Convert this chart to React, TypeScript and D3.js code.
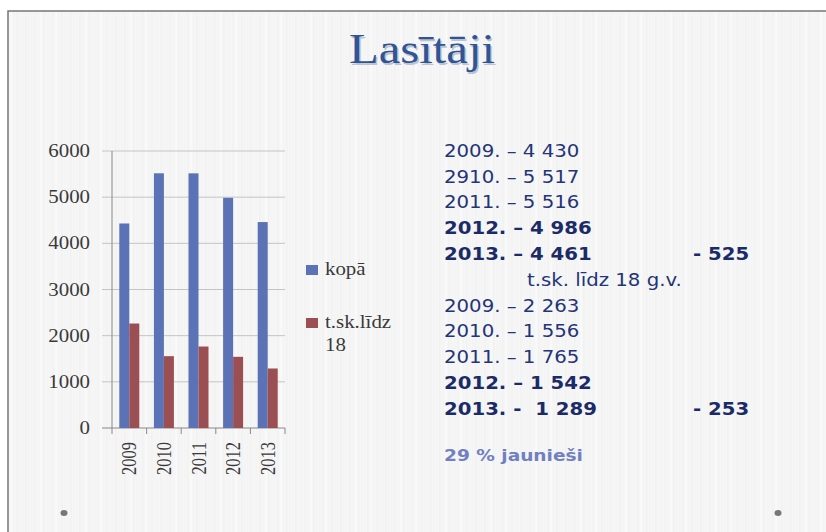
import React from 'react';
import * as d3 from 'd3';

// chart data
const years = ['2009', '2010', '2011', '2012', '2013'];
const kopa = [4430, 5517, 5516, 4986, 4461];
const lidz18 = [2263, 1556, 1765, 1542, 1289];
const yTicks = [0, 1000, 2000, 3000, 4000, 5000, 6000];
const seriesNames = ['kopā', 't.sk.līdz 18'];

// text block on the right
const kopaLines = ['2009. – 4 430', '2910. – 5 517', '2011. – 5 516', '2012. – 4 986', '2013. – 4 461'];
const kopaBold = [false, false, false, true, true];
const kopaDiff = '- 525';
const subTitle = 't.sk. līdz 18 g.v.';
const lidzLines = ['2009. – 2 263', '2010. – 1 556', '2011. – 1 765', '2012. – 1 542', '2013. -  1 289'];
const lidzBold = [false, false, false, true, true];
const lidzDiff = '- 253';
const footNote = '29 % jaunieši';

const BLUE = '#5b73b6';
const RED = '#9c4f52';
const NAVY = '#1b2b68';
const SX = 1.16; // slide is stretched horizontally

const serif = '"Liberation Serif", "Times New Roman", serif';
const gothic = '"DejaVu Sans", sans-serif';

const x = d3.scaleBand().domain(years).range([112, 285]);
const inner = d3.scaleBand().domain(['a', 'b']).range([7.3, 27.3]);
const y = d3.scaleLinear().domain([0, 6000]).range([428, 151]);

const St = ({ x, y, children, ...rest }: any) => (
  <text transform={`translate(${x},${y}) scale(${SX},1)`} xmlSpace="preserve"
    style={{ whiteSpace: 'pre' }} {...rest}>{children}</text>
);

const App = () => {
  const stripes = d3.range(0, 826, 3);
  const lineY = (i: number) => 156.7 + i * 25.8;

  return (
    <svg width={826} height={532} style={{ position: 'absolute', left: 0, top: 0 }}>
      <rect width={826} height={532} fill="#fff" />
      <rect x={8} y={11} width={818} height={521} fill="#f6f6f6" />
      <g>
        {stripes.map((s, i) => (
          <line key={i} x1={8 + s} x2={8 + s} y1={11} y2={532}
            stroke={i % 3 === 0 ? '#efefef' : i % 5 === 1 ? '#fbfbfb' : '#f3f3f3'} strokeWidth={1} />
        ))}
      </g>
      <path d="M8,532V11H826" fill="none" stroke="#777" strokeWidth={1.5} />

      {/* title */}
      <St x={423.5} y={64.5} textAnchor="middle" fontFamily={serif} fontSize={42} fill="#9aa3b5" opacity={0.6}>Lasītāji</St>
      <St x={422} y={63} textAnchor="middle" fontFamily={serif} fontSize={42} fill="#2f5597">Lasītāji</St>

      {/* grid and axes */}
      {yTicks.map(t => (
        <g key={t}>
          <line x1={102} x2={285} y1={y(t)} y2={y(t)} stroke={t === 0 ? '#888' : '#c4c4c4'} />
          <St x={90} y={y(t) + 6} textAnchor="end" fontFamily={serif} fontSize={18} fill="#3a3a3a">{t}</St>
        </g>
      ))}
      <line x1={112} x2={112} y1={y(6000)} y2={y(0)} stroke="#888" />
      {[...years.map(d => x(d) as number), 285].map((v, i) => (
        <line key={i} x1={v} x2={v} y1={y(0)} y2={y(0) + 6} stroke="#888" />
      ))}

      {/* bars */}
      {years.map((d, i) => (
        <g key={d} transform={`translate(${x(d)},0)`}>
          <rect x={inner('a')} width={inner.bandwidth()} y={y(kopa[i])} height={y(0) - y(kopa[i])} fill={BLUE} />
          <rect x={inner('b')} width={inner.bandwidth()} y={y(lidz18[i])} height={y(0) - y(lidz18[i])} fill={RED} />
        </g>
      ))}

      {/* x labels */}
      {years.map(d => (
        <text key={d} transform={`translate(${(x(d) as number) + x.bandwidth() / 2 + 7},442) scale(1.3,1) rotate(-90)`}
          textAnchor="end" fontFamily={serif} fontSize={16.5} fill="#3a3a3a">{d}</text>
      ))}

      {/* legend */}
      <rect x={306} y={265} width={12} height={10} fill={BLUE} />
      <St x={325} y={275} fontFamily={serif} fontSize={18} fill="#3a3a3a">{seriesNames[0]}</St>
      <rect x={306} y={318} width={12} height={10} fill={RED} />
      <St x={325} y={328} fontFamily={serif} fontSize={18} fill="#3a3a3a">t.sk.līdz</St>
      <St x={325} y={351} fontFamily={serif} fontSize={18} fill="#3a3a3a">18</St>

      {/* right text */}
      <g fontFamily={gothic} fill={NAVY} fontSize={17}>
        {kopaLines.map((t, i) => (
          <St key={t} x={444} y={lineY(i)} fontWeight={kopaBold[i] ? 'bold' : 'normal'}
            fill={kopaBold[i] ? NAVY : '#243478'}>{t}</St>
        ))}
        <St x={693} y={lineY(4)} fontWeight="bold">{kopaDiff}</St>
        <St x={527} y={lineY(5)} fill="#243478">{subTitle}</St>
        {lidzLines.map((t, i) => (
          <St key={t} x={444} y={lineY(i + 6)} fontWeight={lidzBold[i] ? 'bold' : 'normal'}
            fill={lidzBold[i] ? NAVY : '#243478'}>{t}</St>
        ))}
        <St x={693} y={lineY(10)} fontWeight="bold">{lidzDiff}</St>
        <St x={444} y={461} fontWeight="bold" fill="#7080c0" fontSize={16}>{footNote}</St>
      </g>

      {/* bullets */}
      <ellipse cx={64} cy={513} rx={3.5} ry={3} fill="#777" />
      <ellipse cx={778} cy={513} rx={3.5} ry={3} fill="#777" />
    </svg>
  );
};

export default App;
